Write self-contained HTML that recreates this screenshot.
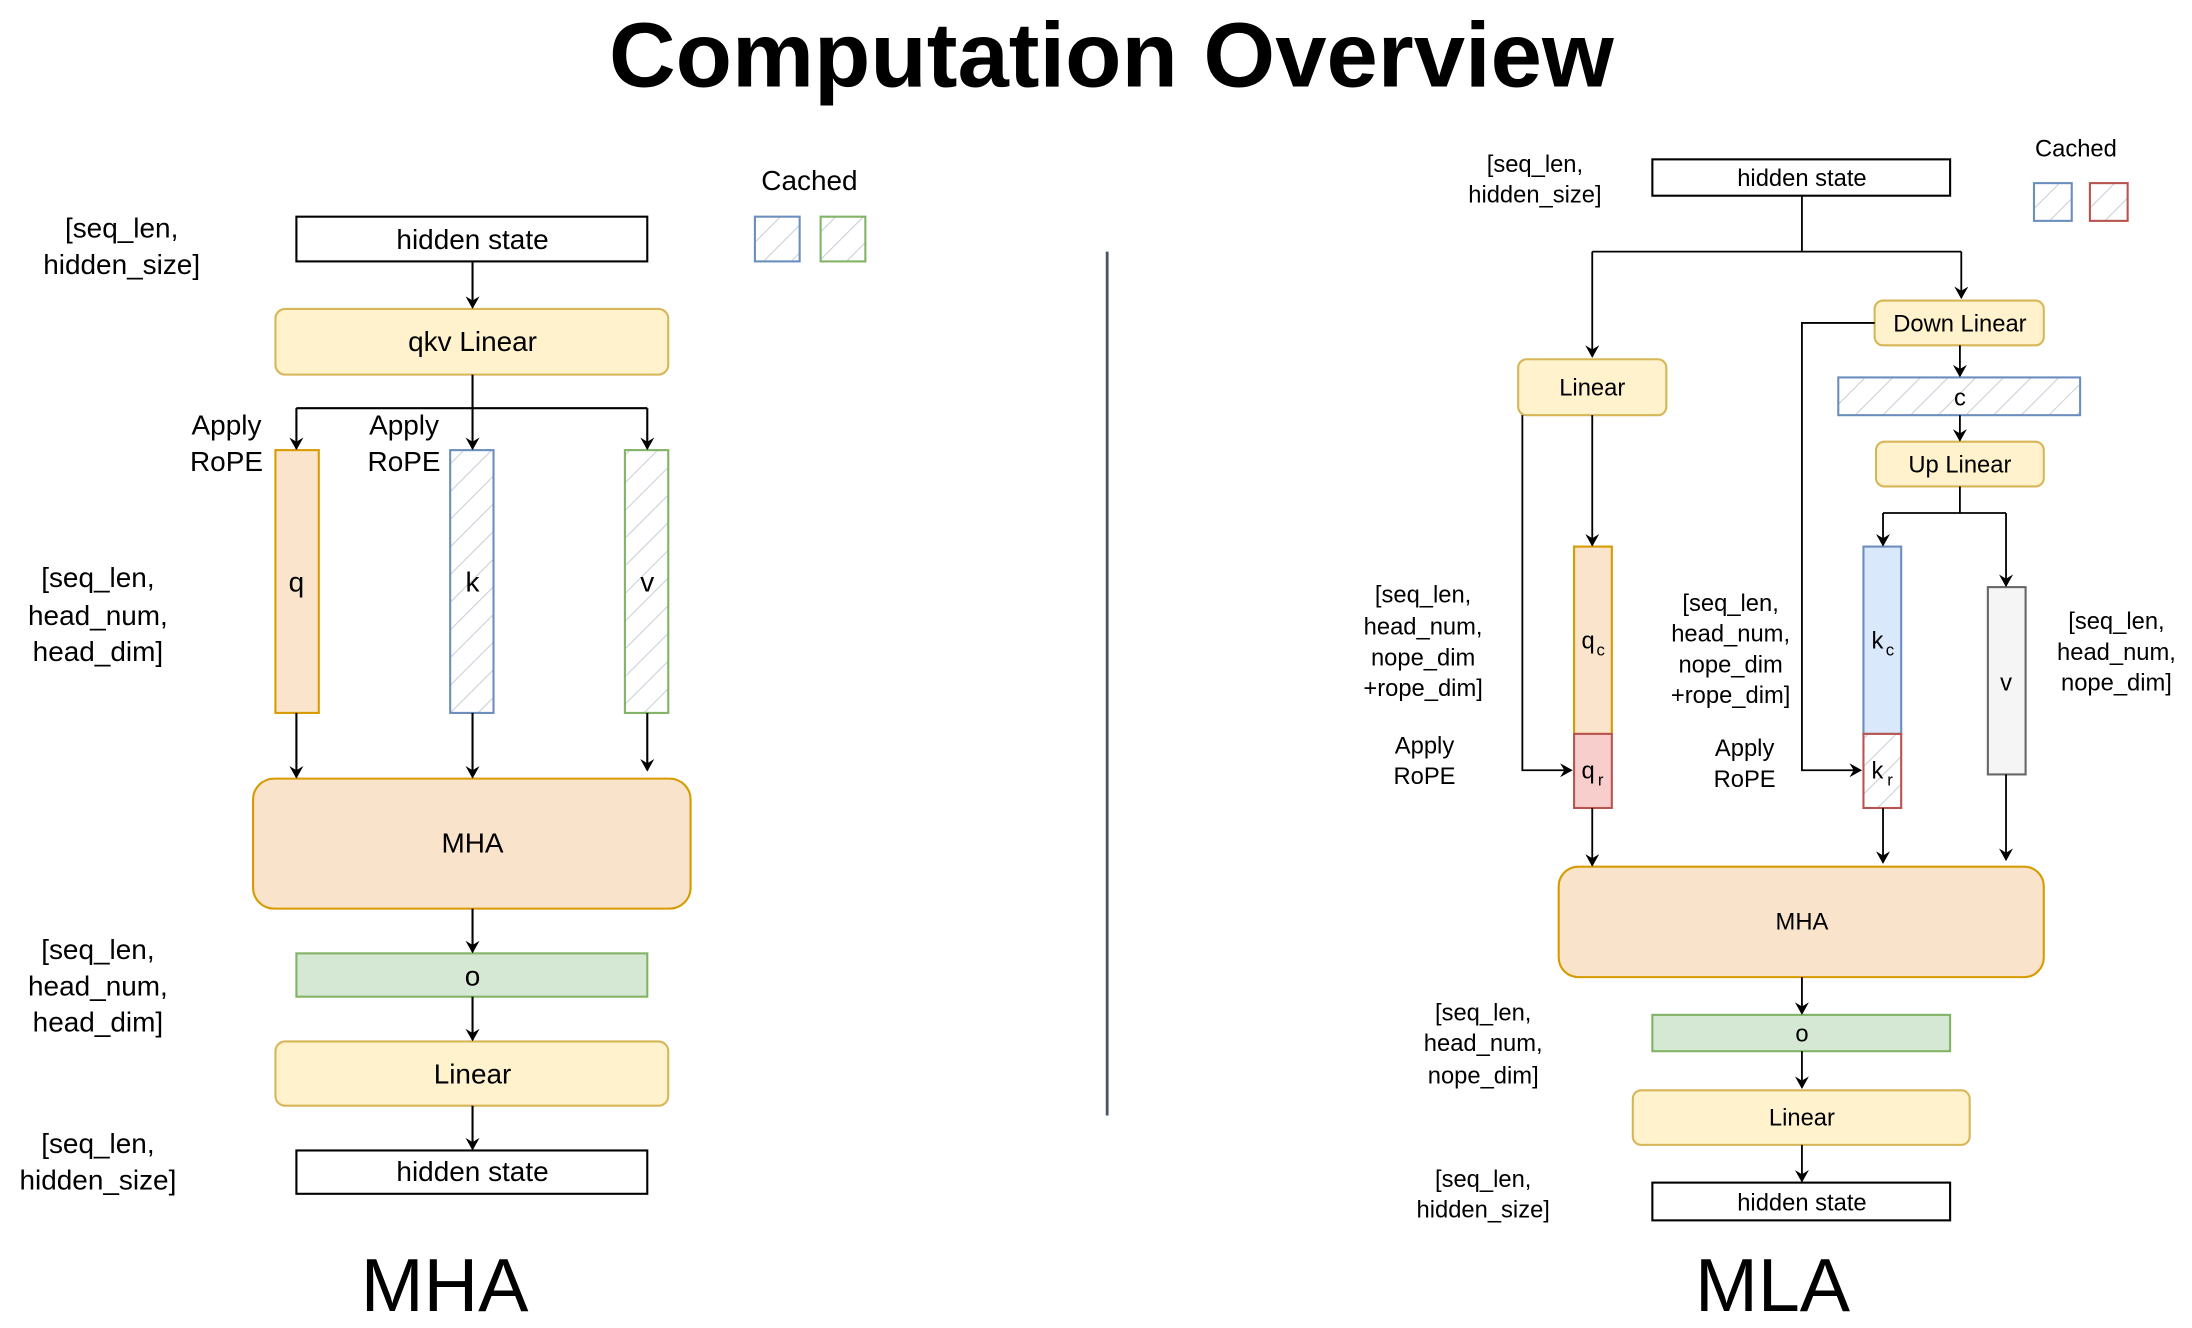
<!DOCTYPE html>
<html><head><meta charset="utf-8"><style>
html,body{margin:0;padding:0;background:#fff;}
svg{display:block;}
text{font-family:"Liberation Sans",Arial,sans-serif;fill:#000;}
</style></head><body>
<svg width="2192" height="1328" viewBox="0 0 1568 950" xmlns="http://www.w3.org/2000/svg">
<defs>
<marker id="a" markerWidth="10" markerHeight="10" refX="8" refY="5" orient="auto" markerUnits="userSpaceOnUse"><path d="M0,0 L9,5 L0,10 L3,5 Z" fill="#000"/></marker>
<pattern id="hb" width="14" height="14" patternUnits="userSpaceOnUse" patternTransform="rotate(45)"><rect width="14" height="14" fill="#fff"/><line x1="0" y1="0" x2="0" y2="14" stroke="#c8cfd8" stroke-width="1.5"/></pattern>
</defs>
<g stroke="#000" stroke-width="1.5" fill="none">
</g>
<text x="795" y="62" font-size="66" font-weight="bold" text-anchor="middle">Computation Overview</text>

<!-- MHA -->
<g font-size="20" text-anchor="middle">
<text x="87" y="170">[seq_len,</text><text x="87" y="196">hidden_size]</text>
<text x="162" y="311">Apply</text><text x="162" y="337">RoPE</text>
<text x="289" y="311">Apply</text><text x="289" y="337">RoPE</text>
<text x="70" y="420">[seq_len,</text><text x="70" y="447">head_num,</text><text x="70" y="473">head_dim]</text>
<text x="70" y="686">[seq_len,</text><text x="70" y="712">head_num,</text><text x="70" y="738">head_dim]</text>
<text x="70" y="825">[seq_len,</text><text x="70" y="851">hidden_size]</text>
<text x="579" y="136">Cached</text>
</g>
<rect x="540" y="155" width="32" height="32" fill="url(#hb)" stroke="#6c8ebf" stroke-width="1.5"/>
<rect x="587" y="155" width="32" height="32" fill="url(#hb)" stroke="#82b366" stroke-width="1.5"/>

<rect x="212" y="155" width="251" height="32" fill="#fff" stroke="#000" stroke-width="1.5"/>
<text x="338" y="178" font-size="20" text-anchor="middle">hidden state</text>
<rect x="197" y="221" width="281" height="47" rx="7" fill="#fff2cc" stroke="#d6b656" stroke-width="1.5"/>
<text x="338" y="251" font-size="20" text-anchor="middle">qkv Linear</text>
<rect x="197" y="322" width="31" height="188" fill="#fae5cc" stroke="#d79b00" stroke-width="1.5"/>
<rect x="322" y="322" width="31" height="188" fill="url(#hb)" stroke="#6c8ebf" stroke-width="1.5"/>
<rect x="447" y="322" width="31" height="188" fill="url(#hb)" stroke="#82b366" stroke-width="1.5"/>
<g font-size="20" text-anchor="middle"><text x="212" y="423">q</text><text x="338" y="423">k</text><text x="463" y="423">v</text></g>
<rect x="181" y="557" width="313" height="93" rx="15" fill="#f9e3cb" stroke="#d79b00" stroke-width="1.5"/>
<text x="338" y="610" font-size="20" text-anchor="middle">MHA</text>
<rect x="212" y="682" width="251" height="31" fill="#d5e8d4" stroke="#82b366" stroke-width="1.5"/>
<text x="338" y="705" font-size="20" text-anchor="middle">o</text>
<rect x="197" y="745" width="281" height="46" rx="7" fill="#fff2cc" stroke="#d6b656" stroke-width="1.5"/>
<text x="338" y="775" font-size="20" text-anchor="middle">Linear</text>
<rect x="212" y="823" width="251" height="31" fill="#fff" stroke="#000" stroke-width="1.5"/>
<text x="338" y="845" font-size="20" text-anchor="middle">hidden state</text>
<g stroke="#000" stroke-width="1.5" fill="none">
<line x1="338" y1="187" x2="338" y2="220" marker-end="url(#a)"/>
<polyline points="338,268 338,292"/>
<line x1="212" y1="292" x2="463" y2="292"/>
<line x1="212" y1="292" x2="212" y2="321" marker-end="url(#a)"/>
<line x1="338" y1="292" x2="338" y2="321" marker-end="url(#a)"/>
<line x1="463" y1="292" x2="463" y2="321" marker-end="url(#a)"/>
<line x1="212" y1="510" x2="212" y2="556" marker-end="url(#a)"/>
<line x1="338" y1="510" x2="338" y2="556" marker-end="url(#a)"/>
<line x1="463" y1="510" x2="463" y2="551" marker-end="url(#a)"/>
<line x1="338" y1="650" x2="338" y2="681" marker-end="url(#a)"/>
<line x1="338" y1="713" x2="338" y2="744" marker-end="url(#a)"/>
<line x1="338" y1="791" x2="338" y2="822" marker-end="url(#a)"/>
</g>
<text x="318" y="938" font-size="54" text-anchor="middle">MHA</text>

<line x1="792" y1="180" x2="792" y2="798" stroke="#4a5568" stroke-width="2"/>

<!-- MLA -->
<g font-size="17" text-anchor="middle">
<text x="1098" y="123">[seq_len,</text><text x="1098" y="145">hidden_size]</text>
<text x="1485" y="112">Cached</text>
<text x="1018" y="431">[seq_len,</text><text x="1018" y="454">head_num,</text><text x="1018" y="476">nope_dim</text><text x="1018" y="498">+rope_dim]</text>
<text x="1019" y="539">Apply</text><text x="1019" y="561">RoPE</text>
<text x="1238" y="437">[seq_len,</text><text x="1238" y="459">head_num,</text><text x="1238" y="481">nope_dim</text><text x="1238" y="503">+rope_dim]</text>
<text x="1248" y="541">Apply</text><text x="1248" y="563">RoPE</text>
<text x="1514" y="450">[seq_len,</text><text x="1514" y="472">head_num,</text><text x="1514" y="494">nope_dim]</text>
<text x="1061" y="730">[seq_len,</text><text x="1061" y="752">head_num,</text><text x="1061" y="775">nope_dim]</text>
<text x="1061" y="849">[seq_len,</text><text x="1061" y="871">hidden_size]</text>
</g>
<rect x="1455" y="131" width="27" height="27" fill="url(#hb)" stroke="#6c8ebf" stroke-width="1.5"/>
<rect x="1495" y="131" width="27" height="27" fill="url(#hb)" stroke="#b85450" stroke-width="1.5"/>

<rect x="1182" y="114" width="213" height="26" fill="#fff" stroke="#000" stroke-width="1.5"/>
<text x="1289" y="133" font-size="17" text-anchor="middle">hidden state</text>
<rect x="1341" y="215" width="121" height="32" rx="6" fill="#fff2cc" stroke="#d6b656" stroke-width="1.5"/>
<text x="1402" y="237" font-size="17" text-anchor="middle">Down Linear</text>
<rect x="1086" y="257" width="106" height="40" rx="6" fill="#fff2cc" stroke="#d6b656" stroke-width="1.5"/>
<text x="1139" y="283" font-size="17" text-anchor="middle">Linear</text>
<rect x="1315" y="270" width="173" height="27" fill="url(#hb)" stroke="#6c8ebf" stroke-width="1.5"/>
<text x="1402" y="290" font-size="17" text-anchor="middle">c</text>
<rect x="1342" y="316" width="120" height="32" rx="6" fill="#fff2cc" stroke="#d6b656" stroke-width="1.5"/>
<text x="1402" y="338" font-size="17" text-anchor="middle">Up Linear</text>
<rect x="1126" y="391" width="27" height="134" fill="#fae5cc" stroke="#d79b00" stroke-width="1.5"/>
<rect x="1126" y="525" width="27" height="53" fill="#f8cecc" stroke="#b85450" stroke-width="1.5"/>
<rect x="1333" y="391" width="27" height="134" fill="#dae8fc" stroke="#6c8ebf" stroke-width="1.5"/>
<rect x="1333" y="525" width="27" height="53" fill="url(#hb)" stroke="#b85450" stroke-width="1.5"/>
<rect x="1422" y="420" width="27" height="134" fill="#f5f5f5" stroke="#666" stroke-width="1.5"/>
<g font-size="17" text-anchor="middle">
<text x="1136" y="464">q</text><text x="1145" y="469" font-size="12">c</text>
<text x="1136" y="557">q</text><text x="1145" y="562" font-size="12">r</text>
<text x="1343" y="464">k</text><text x="1352" y="469" font-size="12">c</text>
<text x="1343" y="557">k</text><text x="1352" y="562" font-size="12">r</text>
<text x="1435" y="494">v</text>
</g>
<rect x="1115" y="620" width="347" height="79" rx="14" fill="#f9e3cb" stroke="#d79b00" stroke-width="1.5"/>
<text x="1289" y="665" font-size="17" text-anchor="middle">MHA</text>
<rect x="1182" y="726" width="213" height="26" fill="#d5e8d4" stroke="#82b366" stroke-width="1.5"/>
<text x="1289" y="745" font-size="17" text-anchor="middle">o</text>
<rect x="1168" y="780" width="241" height="39" rx="6" fill="#fff2cc" stroke="#d6b656" stroke-width="1.5"/>
<text x="1289" y="805" font-size="17" text-anchor="middle">Linear</text>
<rect x="1182" y="846" width="213" height="27" fill="#fff" stroke="#000" stroke-width="1.5"/>
<text x="1289" y="866" font-size="17" text-anchor="middle">hidden state</text>
<g stroke="#000" stroke-width="1.3" fill="none">
<line x1="1289" y1="140" x2="1289" y2="180"/>
<line x1="1139" y1="180" x2="1403" y2="180"/>
<line x1="1139" y1="180" x2="1139" y2="255" marker-end="url(#a)"/>
<line x1="1403" y1="180" x2="1403" y2="213" marker-end="url(#a)"/>
<polyline points="1341,231 1289,231 1289,551 1331,551" marker-end="url(#a)"/>
<line x1="1402" y1="247" x2="1402" y2="269" marker-end="url(#a)"/>
<line x1="1402" y1="297" x2="1402" y2="315" marker-end="url(#a)"/>
<line x1="1402" y1="348" x2="1402" y2="367"/>
<line x1="1347" y1="367" x2="1435" y2="367"/>
<line x1="1347" y1="367" x2="1347" y2="390" marker-end="url(#a)"/>
<line x1="1435" y1="367" x2="1435" y2="419" marker-end="url(#a)"/>
<line x1="1139" y1="297" x2="1139" y2="390" marker-end="url(#a)"/>
<polyline points="1089,297 1089,551 1124,551" marker-end="url(#a)"/>
<line x1="1139" y1="578" x2="1139" y2="619" marker-end="url(#a)"/>
<line x1="1347" y1="578" x2="1347" y2="617" marker-end="url(#a)"/>
<line x1="1435" y1="554" x2="1435" y2="615" marker-end="url(#a)"/>
<line x1="1289" y1="699" x2="1289" y2="725" marker-end="url(#a)"/>
<line x1="1289" y1="752" x2="1289" y2="778" marker-end="url(#a)"/>
<line x1="1289" y1="819" x2="1289" y2="845" marker-end="url(#a)"/>
</g>
<text x="1268" y="938" font-size="54" text-anchor="middle">MLA</text>
</svg>
</body></html>
